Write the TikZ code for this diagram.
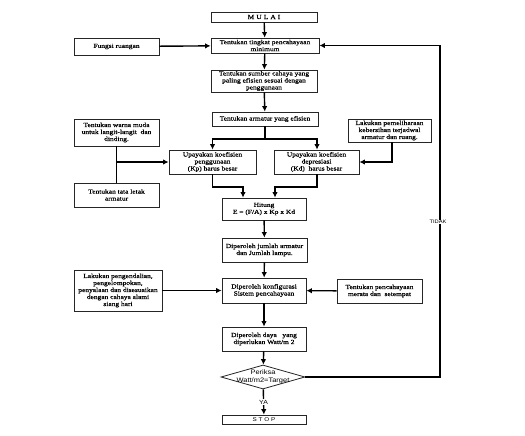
\documentclass[tikz,border=0pt]{standalone}
\usepackage{fontspec}
\setmainfont{Liberation Serif}
\newfontfamily\bxfont[FakeStretch=1.2,FakeBold=0.6]{Liberation Serif}
\newfontfamily\sxfont[FakeStretch=1.15]{Liberation Sans}
\usetikzlibrary{shapes.geometric,arrows.meta}
\begin{document}
\begin{tikzpicture}[x=1pt,y=-1pt,
  box/.style={draw=black!85,line width=0.8pt,align=center,inner sep=0.5pt,
    font=\bxfont\fontsize{6.2}{7}\selectfont},
  conn/.style={line width=1.4pt,-{Latex[length=5.5pt,width=5.5pt]}},
  plain/.style={line width=1.4pt},
  lbl/.style={font=\sxfont\fontsize{5}{6}\selectfont,fill=white,inner sep=0.5pt}]
\useasboundingbox (0,0) rectangle (525,436);
% main column
\node[box,minimum width=106pt,minimum height=10pt] (mulai) at (264,17) {M\,\,U\,\,L\,\,A\,\,I};
\node[box,minimum width=108pt,minimum height=15pt] (tingkat) at (265,45.5) {Tentukan tingkat pencahayaan\\minimum};
\node[box,minimum width=85pt,minimum height=17pt] (fungsi) at (116.5,46.5) {Fungsi ruangan};
\node[box,minimum width=106pt,minimum height=22pt] (sumber) at (264,81) {Tentukan sumber cahaya yang\\paling efisien sesuai dengan\\penggunaan};
\node[box,minimum width=106pt,minimum height=14pt] (armatur) at (265,119) {Tentukan armatur yang efisien};
\node[box,minimum width=87pt,minimum height=24pt] (kp) at (212.5,162) {Upayakan koefisien\\penggunaan\\(Kp) harus besar};
\node[box,minimum width=85pt,minimum height=24pt] (kd) at (316.5,162) {Upayakan koefisien\\depresiasi\\(Kd)\ \ harus besar};
\node[box,minimum width=83pt,minimum height=23pt] (pemeliharaan) at (389.5,130.5) {Lakukan pemeliharaan\\kebersihan terjadwal\\armatur dan ruang.};
\node[box,minimum width=85pt,minimum height=27pt] (warna) at (116.5,132.5) {Tentukan warna muda\\untuk langit-langit\ \ dan\\dinding.};
\node[box,minimum width=85pt,minimum height=24pt] (tataletak) at (116.5,195) {Tentukan tata letak\\armatur};
\node[box,minimum width=84pt,minimum height=22pt] (hitung) at (264,209) {Hitung\\E = (F/A) x Kp x Kd};
\node[box,minimum width=85pt,minimum height=24pt] (jumlah) at (264.5,250) {Diperoleh jumlah armatur\\dan Jumlah lampu.};
\node[box,minimum width=84pt,minimum height=25pt] (konfig) at (264,290.5) {Diperoleh konfigurasi\\Sistem pencahayaan};
\node[box,minimum width=88pt,minimum height=41pt] (pengendalian) at (118,290.5) {Lakukan pengendalian,\\pengelompokan,\\penyalaan dan disesuaikan\\dengan cahaya alami\\siang hari};
\node[box,minimum width=85pt,minimum height=24pt] (merata) at (379.5,291) {Tentukan pencahayaan\\merata dan\ \ setempat};
\node[box,minimum width=84pt,minimum height=24pt] (daya) at (264,339) {Diperoleh daya\ \ \ yang\\diperlukan Watt/m 2};
\node[diamond,draw=black!85,line width=0.8pt,inner sep=0pt,minimum width=84pt,minimum height=24pt,
  label={[font=\sxfont\fontsize{6.5}{8}\selectfont,align=center]center:Periksa\\Watt/m2=Target}] (cek) at (263,377) {};
\node[box,minimum width=84pt,minimum height=9pt,font=\sxfont\fontsize{5.5}{6}\selectfont] (stop) at (264,419.5) {S\,\,T\,\,O\,\,P};
% connectors
\draw[conn] (mulai) -- (tingkat);
\draw[conn] (fungsi) -- (tingkat);
\draw[conn] (tingkat) -- (sumber);
\draw[conn] (sumber) -- (armatur);
\coordinate (split) at (265,139);
\draw[plain] (armatur) -- (split);
\draw[conn] (split) -| (kp.north);
\draw[conn] (split) -| ([xshift=0.5pt]kd.north);
\draw[conn] ([xshift=2.5pt]pemeliharaan.south) |- (kd.east);
\draw[plain] (warna) -- (tataletak);
\draw[conn] (warna.south |- kp.west) -- (kp.west);
\coordinate (kpj) at (212.5,187);
\coordinate (kdj) at (317,187);
\draw[conn] (kp.south) -- (kpj) -| ([xshift=-21pt]hitung.north);
\draw[conn] ([xshift=0.5pt]kd.south) -- (kdj) -| ([xshift=11pt]hitung.north);
\draw[conn] (hitung) -- (jumlah);
\draw[conn] (jumlah) -- (konfig);
\draw[conn] (pengendalian) -- (konfig);
\draw[conn] (merata) -- (konfig);
\draw[conn] (konfig) -- (daya);
\draw[conn] (daya) -- (cek);
\draw[conn] (cek) -- node[lbl,font=\sxfont\fontsize{6}{7}\selectfont]{YA} (stop);
\coordinate (loop) at (440,377);
\draw[conn] (cek.east) -- (loop) |- (tingkat.east);
\node[lbl] (tidak) at (438,222) {TIDAK};
\end{tikzpicture}
\end{document}
